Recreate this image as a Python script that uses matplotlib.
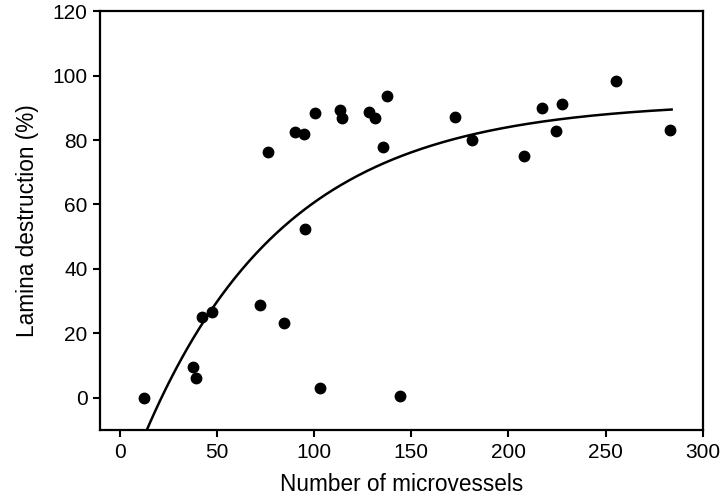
import numpy as np
import matplotlib
matplotlib.use("Agg")
import matplotlib.pyplot as plt

plt.rcParams['font.family'] = ['Liberation Sans', 'DejaVu Sans']

# microvessel counts and lamina destruction (%)
vessels = [12.6, 37.7, 39.5, 42.6, 47.6, 72.5, 76.6, 84.5, 90.5, 94.8,
           95.6, 100.8, 103.3, 113.5, 114.7, 128.4, 131.5, 135.5, 137.5, 144.5,
           172.7, 181.4, 208.3, 217.4, 224.3, 227.4, 255.4, 283.3]
destruction = [0.0, 9.7, 6.2, 25.1, 26.6, 28.8, 76.3, 23.2, 82.6, 81.8,
               52.4, 88.3, 3.0, 89.4, 86.8, 88.8, 86.8, 77.8, 93.7, 0.7,
               87.3, 80.0, 75.2, 90.1, 82.9, 91.1, 98.4, 83.2]

# fitted curve y = A - B*exp(-k*x)
A, B, k = 92.0, 123.6, 0.0137
x_fit = np.linspace(13.0, 284.0, 300)
y_fit = A - B * np.exp(-k * x_fit)

fig = plt.figure(figsize=(7.2, 5.01), dpi=100)
ax = fig.add_axes([0.139, 0.1417, 0.837, 0.836])

ax.plot(x_fit, y_fit, color='black', lw=1.8)
ax.plot(vessels, destruction, 'o', color='black', ms=7.5, mec='black')

ax.set_xlim(-10, 300)
ax.set_ylim(-10, 120)
ax.set_xticks([0, 50, 100, 150, 200, 250, 300])
ax.set_yticks([0, 20, 40, 60, 80, 100, 120])

for s in ax.spines.values():
    s.set_linewidth(1.6)
ax.tick_params(direction='out', length=5, width=1.5, labelsize=15, pad=4)

ax.set_xlabel('Number of microvessels', fontsize=16.3, labelpad=8)
ax.set_ylabel('Lamina destruction (%)', fontsize=16.3, labelpad=10)

fig.savefig('out.png', dpi=100)
